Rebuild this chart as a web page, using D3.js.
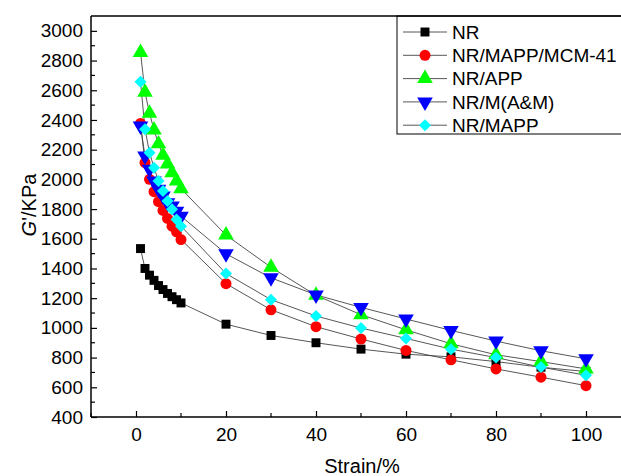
<!DOCTYPE html>
<html><head><meta charset="utf-8">
<script src="https://cdn.jsdelivr.net/npm/d3@7"></script>
<style>body{margin:0;background:#fff}svg{display:block}text{font-family:"Liberation Sans",Arial,sans-serif}</style>
</head><body><svg id="c" width="621" height="476"></svg>
<script>
const strain = [1,2,3,4,5,6,7,8,9,10,20,30,40,50,60,70,80,90,100];
const seriesNames = ["NR","NR/MAPP/MCM-41","NR/APP","NR/M(A&M)","NR/MAPP"];
const nr = [1534,1400,1355,1320,1285,1258,1232,1210,1190,1168,1025,949,900,857,823,805,773,735,706];
const mcm = [2377,2113,2000,1917,1850,1791,1737,1685,1647,1595,1298,1122,1008,925,848,785,724,668,611];
const app = [2855,2586,2446,2333,2239,2162,2104,2045,1989,1937,1625,1408,1219,1089,987,893,819,773,724];
const mam = [2360,2157,2068,1989,1933,1888,1843,1820,1786,1752,1499,1337,1222,1138,1060,983,911,846,792];
const mapp = [2657,2338,2180,2079,1989,1921,1854,1798,1730,1685,1366,1190,1080,999,929,857,800,736,681];
const yTicks = [400,600,800,1000,1200,1400,1600,1800,2000,2200,2400,2600,2800,3000];
const xTicks = [0,20,40,60,80,100];

const values = [nr, mcm, app, mam, mapp];
const colors = ["#000000","#ff0000","#00ff00","#0000ff","#00ffff"];
const shapes = ["square","circle","up","down","diamond"];

const svg = d3.select("#c");
const L = 91, T = 16, B = 417;
const x = d3.scaleLinear().domain([-10,110]).range([L, 631]);
const y = d3.scaleLinear().domain([400,3100]).range([B, T]);

const xAx = svg.append("g").attr("transform",`translate(0,${B})`)
  .call(d3.axisBottom(x).tickValues(xTicks).tickSizeInner(-6).tickSizeOuter(0).tickPadding(11).tickFormat(d3.format("d")));
const yAx = svg.append("g").attr("transform",`translate(${L},0)`)
  .call(d3.axisLeft(y).tickValues(yTicks).tickSizeInner(-6).tickSizeOuter(0).tickPadding(8).tickFormat(d3.format("d")));
[xAx,yAx].forEach(g=>{
  g.select(".domain").attr("stroke-width",1.5);
  g.selectAll(".tick line").attr("stroke-width",1.2);
  g.selectAll("text").attr("font-size",19).attr("fill","#000");
});
xAx.select(".domain").attr("d",`M${L},0H621`);
yAx.select(".domain").attr("d",`M0,${B}V${T}`);
// minor ticks
const xMinor = [-10,10,30,50,70,90,110].filter(v=>x(v)<621);
svg.append("g").selectAll("line").data(xMinor).join("line")
  .attr("x1",d=>x(d)).attr("x2",d=>x(d)).attr("y1",B).attr("y2",B-4).attr("stroke","#000").attr("stroke-width",1.2);
const yMinor = d3.range(500,3100,200);
svg.append("g").selectAll("line").data(yMinor).join("line")
  .attr("x1",L).attr("x2",L+4).attr("y1",d=>y(d)).attr("y2",d=>y(d)).attr("stroke","#000").attr("stroke-width",1.2);

// axis titles
svg.append("text").attr("x",362).attr("y",473).attr("text-anchor","middle").attr("font-size",20).text("Strain/%");
const yl = svg.append("text").attr("transform","translate(36,205) rotate(-90)").attr("text-anchor","middle").attr("font-size",20);
yl.append("tspan").attr("font-style","italic").text("G");
yl.append("tspan").text("'/KPa");

function sym(i){
  const s = shapes[i];
  if (s==="square") return {d:d3.symbol().type(d3.symbolSquare).size(80)(), r:""};
  if (s==="circle") return {d:d3.symbol().type(d3.symbolCircle).size(95)(), r:""};
  if (s==="up") return {d:d3.symbol().type(d3.symbolTriangle).size(105)(), r:""};
  if (s==="down") return {d:d3.symbol().type(d3.symbolTriangle).size(105)(), r:" rotate(180)"};
  return {d:d3.symbol().type(d3.symbolSquare).size(72)(), r:" rotate(45)"};
}

// lines
const line = d3.line().x(d=>x(d[0])).y(d=>y(d[1]));
values.forEach((vals,i)=>{
  svg.append("path").datum(strain.map((s,k)=>[s,vals[k]])).attr("d",line)
    .attr("fill","none").attr("stroke","#444").attr("stroke-width",0.9);
});
// markers
values.forEach((vals,i)=>{
  const m = sym(i);
  svg.append("g").selectAll("path").data(strain.map((s,k)=>[s,vals[k]])).join("path")
    .attr("d",m.d)
    .attr("transform",d=>`translate(${x(d[0])},${y(d[1])})`+m.r)
    .attr("fill",colors[i]);
});

// legend
const lg = svg.append("g");
lg.append("rect").attr("x",397).attr("y",T).attr("width",240).attr("height",118).attr("fill","#fff").attr("stroke","#000").attr("stroke-width",1);
seriesNames.forEach((n,i)=>{
  const yy = 32 + i*23.3;
  const m = sym(i);
  lg.append("line").attr("x1",403).attr("x2",447).attr("y1",yy).attr("y2",yy).attr("stroke","#444").attr("stroke-width",0.9);
  lg.append("path").attr("d",m.d).attr("transform",`translate(425,${yy})`+m.r).attr("fill",colors[i]);
  lg.append("text").attr("x",452).attr("y",yy+6.8).attr("font-size",19).text(n);
});
svg.append("line").attr("x1",L).attr("x2",621).attr("y1",T).attr("y2",T).attr("stroke","#000").attr("stroke-width",1.5);
</script></body></html>
